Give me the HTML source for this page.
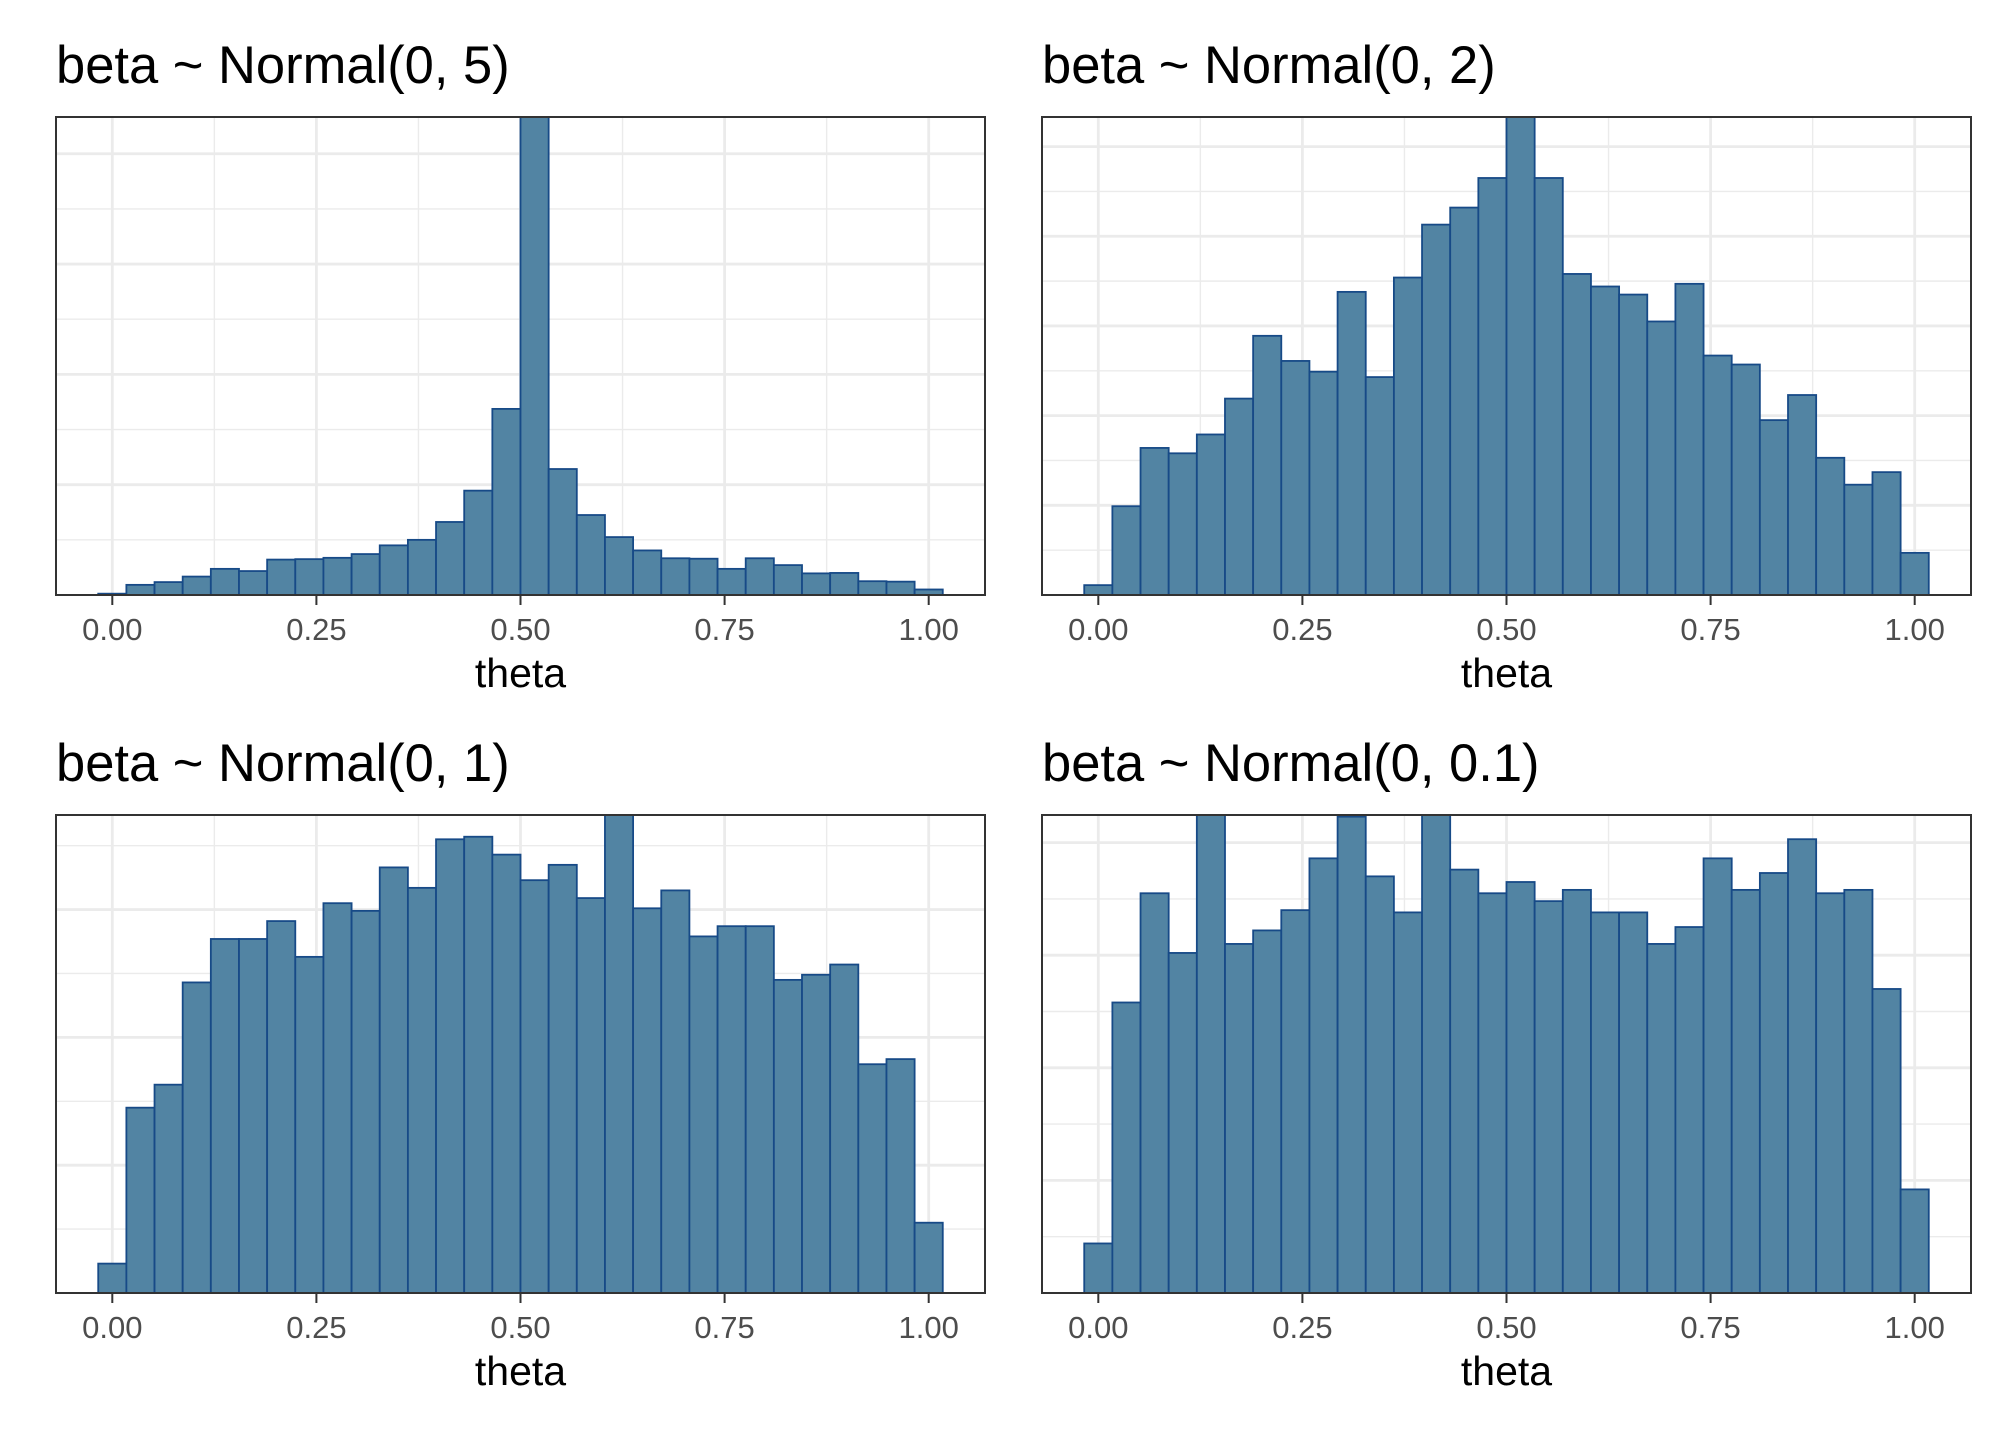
<!DOCTYPE html>
<html><head><meta charset="utf-8"><style>
html,body{margin:0;padding:0;background:#fff;}
svg text{font-family:"Liberation Sans",Arial,sans-serif;}
</style></head><body>
<svg id="chart" width="2016" height="1440" viewBox="0 0 2016 1440" xmlns="http://www.w3.org/2000/svg"></svg>
<script>
const titles = ["beta ~ Normal(0, 5)","beta ~ Normal(0, 2)","beta ~ Normal(0, 1)","beta ~ Normal(0, 0.1)"];
const xTicks = [0,0.25,0.5,0.75,1];
const xTickLabels = ["0.00","0.25","0.50","0.75","1.00"];
const counts1 = [12,92,117,167,237,217,321,325,337,371,450,500,662,946,1687,4333,1142,725,525,404,333,329,237,333,271,196,200,125,121,50];
const counts2 = [11,99,164,158,179,219,289,261,249,338,243,354,413,432,465,533,465,358,344,335,305,347,267,257,195,223,153,123,137,47];
const counts3 = [23,145,163,243,277,277,291,263,305,299,333,317,355,357,343,323,335,309,374,301,315,279,287,287,245,249,257,179,183,55];
const counts4 = [44,258,355,302,424.5,310,322,340,386,423,370,338,424.5,376,355,365,348,358,338,338,310,325,386,358,373,403,355,358,270,92];
const yMax = [4333,533,374,424.5];
const yGridStep = [500,50,50,50];

const series=[counts1,counts2,counts3,counts4];
const panels=[{x:56,y:117},{x:1042,y:117},{x:56,y:815},{x:1042,y:815}];
const PW=929,PH=478;
const svg=document.getElementById('chart');
const NS='http://www.w3.org/2000/svg';
function mk(tag,attrs,parent){const e=document.createElementNS(NS,tag);for(const k in attrs)e.setAttribute(k,attrs[k]);(parent||svg).appendChild(e);return e;}
const binW=1/29, xMin=-0.5*binW-0.05*(1+binW), xMaxV=1+0.5*binW+0.05*(1+binW);
panels.forEach((p,i)=>{
  const g=mk('g',{});
  
  
  const xs=v=>p.x+(v-xMin)/(xMaxV-xMin)*PW;
  const ys=v=>p.y+PH-Math.min(v,yMax[i])/yMax[i]*PH;
  const t=mk('text',{x:p.x,y:p.y-34,'font-size':52.5,fill:'#000'},g);
  t.textContent=titles[i];
  
  
  mk('rect',{x:p.x,y:p.y,width:PW,height:PH,fill:'#fff'},g);
  for(let k=1;k*yGridStep[i]<yMax[i];k++){
    const yy=ys(k*yGridStep[i]);
    const gl=mk('line',{x1:p.x,x2:p.x+PW,y1:yy,y2:yy,stroke:'#ebebeb','stroke-width':k%2?1.4:2.8},g);
    
    
  }
  for(let v=-0.125;v<=1.13;v+=0.125){
    const xx=xs(v); if(xx<p.x||xx>p.x+PW)continue;
    const major=Math.abs(v*4-Math.round(v*4))<1e-6;
    const gl=mk('line',{x1:xx,x2:xx,y1:p.y,y2:p.y+PH,stroke:'#ebebeb','stroke-width':major?2.8:1.4},g);
    
    
  }
  series[i].forEach((c,j)=>{
    const c0=j*binW;
    const x0=xs(c0-binW/2), x1=xs(c0+binW/2), y0=ys(c);
    const b=mk('rect',{x:x0,y:y0,width:x1-x0,height:p.y+PH-y0,fill:'#5284a3',stroke:'#174a87','stroke-width':1.8},g);
    
    
  });
  const border=mk('rect',{x:p.x,y:p.y,width:PW,height:PH,fill:'none',stroke:'#333','stroke-width':2},g);
  
  
  xTicks.forEach((v,k)=>{
    const xx=xs(v);
    mk('line',{x1:xx,x2:xx,y1:p.y+PH,y2:p.y+PH+10,stroke:'#333','stroke-width':2},g);
    const tl=mk('text',{x:xx,y:p.y+PH+45,'font-size':31,fill:'#4d4d4d','text-anchor':'middle'},g);
    tl.textContent=xTickLabels[k];
    
    
  });
  const at=mk('text',{x:p.x+PW/2,y:p.y+PH+92,'font-size':41,fill:'#000','text-anchor':'middle'},g);
  at.textContent='theta';
  
  
});
</script>
</body></html>
